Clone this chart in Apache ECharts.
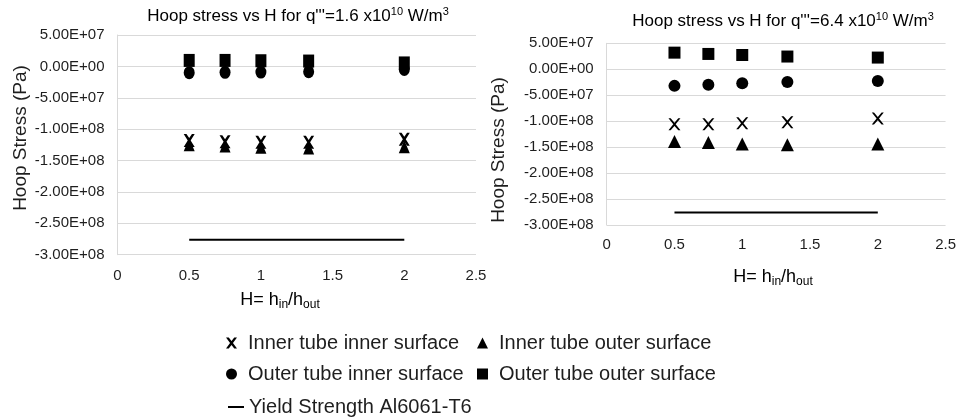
<!DOCTYPE html>
<html><head><meta charset="utf-8">
<script src="https://cdn.jsdelivr.net/npm/echarts@6/dist/echarts.min.js"></script>
<style>html,body{margin:0;padding:0;background:#fff}#c{width:959px;height:419px}</style>
</head><body><div id="c"></div>
<script>
// ---- data ----
const H = [0.5, 0.75, 1, 1.333, 2];
const yTicks = [-3e8, -2.5e8, -2e8, -1.5e8, -1e8, -5e7, 0, 5e7];
const xTicks = [0, 0.5, 1, 1.5, 2, 2.5];
// Left chart q'''=1.6e10
const L_innerInner = [-1.18e8, -1.20e8, -1.21e8, -1.21e8, -1.16e8];
const L_innerOuter = [-1.25e8, -1.27e8, -1.29e8, -1.30e8, -1.28e8];
const L_outerInner = [-1.0e7, -9.5e6, -9.0e6, -8.5e6, -5.0e6];
const L_outerOuter = [9.5e6, 9.5e6, 9.0e6, 8.5e6, 5.5e6];
// Right chart q'''=6.4e10
const R_innerInner = [-1.06e8, -1.06e8, -1.04e8, -1.02e8, -9.5e7];
const R_innerOuter = [-1.39e8, -1.41e8, -1.44e8, -1.455e8, -1.44e8];
const R_outerInner = [-3.2e7, -3.0e7, -2.7e7, -2.45e7, -2.25e7];
const R_outerOuter = [3.2e7, 2.95e7, 2.75e7, 2.45e7, 2.25e7];
// Yield strength Al6061-T6
const yieldX = [0.5, 2];
const yieldVal = -2.76e8;
const names = ['Inner tube inner surface','Inner tube outer surface','Outer tube inner surface','Outer tube outer surface','Yield Strength Al6061-T6'];

const FONT = "'Liberation Sans', Arial, sans-serif";
const TXT = '#1e1e1e';
const XMARK_BOLD = 'path://M0,0L3,0L6,3.8L9,0L12,0L7.6,6L12,12L9,12L6,8.2L3,12L0,12L4.4,6Z';
const XMARK = 'path://M0,0L2.2,0L6,4.4L9.8,0L12,0L7.2,6L12,12L9.8,12L6,7.6L2.2,12L0,12L4.8,6Z';

const pair = (xs, ys) => xs.map((x, i) => [x, ys[i]]);
function fmtE(v){
  if (v === 0) return '0.00E+00';
  const s = v.toExponential(2).toUpperCase();
  const m = s.match(/^(-?[\d.]+)E([+-])(\d+)$/);
  return m[1] + 'E' + m[2] + (m[3].length < 2 ? '0' + m[3] : m[3]);
}

const grids = [
  {left: 117.5, top: 35, width: 358.5, height: 219.7},
  {left: 606.7, top: 43.3, width: 339.3, height: 181.7}
];
const xAxis = [0,1].map(i => ({
  type:'value', gridIndex:i, min:0, max:2.5, interval:0.5,
  axisLine:{show:false}, axisTick:{show:false}, splitLine:{show:false},
  axisLabel:{color:TXT, fontSize:15, fontFamily:FONT, margin: i===0 ? 14 : 12,
    formatter: v => String(v)}
}));
const yAxis = [0,1].map(i => ({
  type:'value', gridIndex:i, min:-3e8, max:5e7, interval:5e7,
  axisLine:{show:true, lineStyle:{color:'#d9d9d9', width:1}}, axisTick:{show:false},
  splitLine:{show:true, lineStyle:{color:'#d9d9d9', width:1}},
  axisLabel:{color:TXT, fontSize:15, fontFamily:FONT, margin:13, formatter: fmtE}
}));

const sets = [[L_innerInner, L_innerOuter, L_outerInner, L_outerOuter],[R_innerInner, R_innerOuter, R_outerInner, R_outerOuter]];
const series = [];
sets.forEach((arrs, g) => {
  const symbols = [g === 0 ? XMARK_BOLD : XMARK, 'triangle', 'circle', 'rect'];
  arrs.forEach((ys, k) => {
    let size;
    if (g === 0) size = [11, 13];
    else size = k === 1 ? 13 : 12;
    series.push({
      type:'scatter', name:names[k], xAxisIndex:g, yAxisIndex:g,
      symbol:symbols[k], symbolSize: size,
      itemStyle:{color:'#000', opacity:1}, data: pair(H, ys)
    });
  });
  series.push({
    type:'line', name:names[4], xAxisIndex:g, yAxisIndex:g, symbol:'none',
    lineStyle:{color:'#000', width:2}, itemStyle:{color:'#000'},
    data: yieldX.map(x => [x, yieldVal])
  });
});

const legPos = [
  {left:226, top:332}, {left:477, top:332},
  {left:226, top:363}, {left:477, top:363},
  {left:227, top:396}
];
const legendIcons = [XMARK_BOLD, 'triangle', 'circle', 'rect'];
const legend = names.map((n, i) => ({
  data:[i < 4 ? {name:n, icon:legendIcons[i]} : n],
  left:legPos[i].left, top:legPos[i].top, padding:0, orient:'horizontal',
  itemWidth: i===4 ? 16 : 11, itemHeight: i===4 ? 2 : 11, selectedMode:false,
  textStyle:{color:TXT, fontSize:20, fontFamily:FONT, lineHeight:22, padding: i===4 ? [0,0,0,0] : [0,0,0,6]}
}));

const titleRich = {
  m:{fontSize:17, fontFamily:FONT, color:TXT, lineHeight:20},
  s:{fontSize:11, fontFamily:FONT, color:TXT, lineHeight:20, verticalAlign:'top'}
};
const xRich = {
  m:{fontSize:18, fontFamily:FONT, color:TXT, lineHeight:22},
  b:{fontSize:12, fontFamily:FONT, color:TXT, lineHeight:22, verticalAlign:'bottom'}
};

const graphic = [
  {type:'text', x:298, y:16, style:{text:"{m|Hoop stress vs H for q'''=1.6 x10}{s|10}{m| W/m}{s|3}", rich:titleRich, align:'center', verticalAlign:'middle'}},
  {type:'text', x:783, y:21, style:{text:"{m|Hoop stress vs H for q'''=6.4 x10}{s|10}{m| W/m}{s|3}", rich:titleRich, align:'center', verticalAlign:'middle'}},
  {type:'text', x:280, y:300, style:{text:"{m|H= h}{b|in}{m|/h}{b|out}", rich:xRich, align:'center', verticalAlign:'middle'}},
  {type:'text', x:773, y:277, style:{text:"{m|H= h}{b|in}{m|/h}{b|out}", rich:xRich, align:'center', verticalAlign:'middle'}},
  {type:'text', x:21, y:138, rotation:Math.PI/2, style:{text:'Hoop Stress (Pa)', font:'19px ' + FONT, fill:TXT, align:'center', verticalAlign:'middle'}},
  {type:'text', x:499, y:150, rotation:Math.PI/2, style:{text:'Hoop Stress (Pa)', font:'19px ' + FONT, fill:TXT, align:'center', verticalAlign:'middle'}}
];

const chart = echarts.init(document.getElementById('c'), null, {renderer:'canvas'});
chart.setOption({
  animation:false, backgroundColor:'#fff',
  grid:grids, xAxis, yAxis, series, legend, graphic
});
</script></body></html>
